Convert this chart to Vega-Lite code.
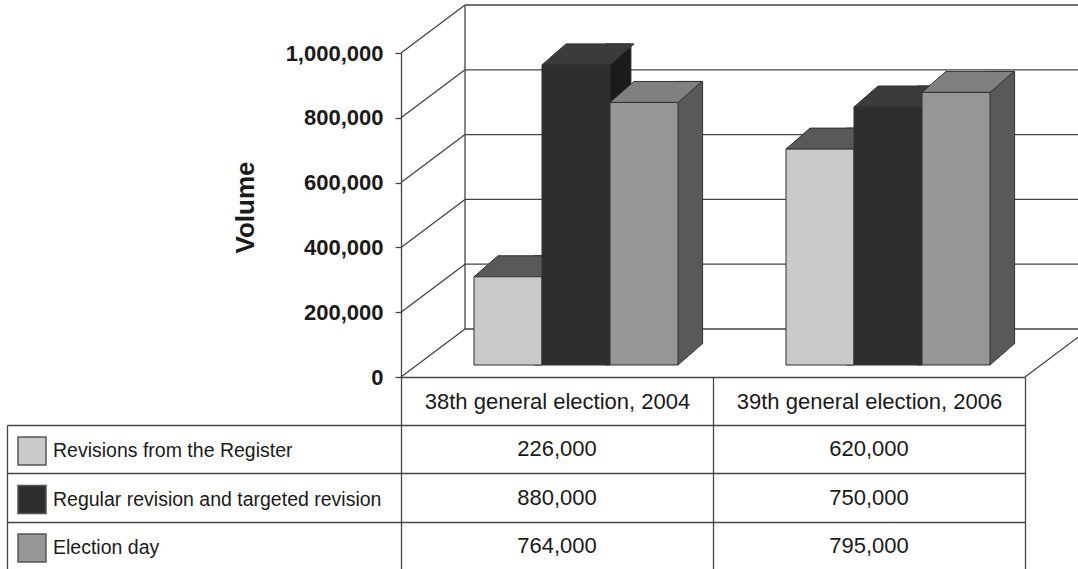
{
  "$schema": "https://vega.github.io/schema/vega-lite/v6.json",
  "width": 624,
  "height": 324,
  "padding": {"left": 401, "top": 53, "right": 53, "bottom": 192},
  "autosize": {"type": "none"},
  "config": {
    "font": "Liberation Sans",
    "view": {"stroke": null},
    "axis": {"labelColor": "#1a1a1a", "titleColor": "#1a1a1a"}
  },
  "datasets": {
    "volumes": [
      {"election": "38th general election, 2004", "series": "Revisions from the Register", "value": 226000},
      {"election": "38th general election, 2004", "series": "Regular revision and targeted revision", "value": 880000},
      {"election": "38th general election, 2004", "series": "Election day", "value": 764000},
      {"election": "39th general election, 2006", "series": "Revisions from the Register", "value": 620000},
      {"election": "39th general election, 2006", "series": "Regular revision and targeted revision", "value": 750000},
      {"election": "39th general election, 2006", "series": "Election day", "value": 795000}
    ],
    "levels": [
      {"level": 0}, {"level": 200000}, {"level": 400000},
      {"level": 600000}, {"level": 800000}, {"level": 1000000}
    ]
  },
  "layer": [
    {
      "layer": [
        {
          "data": {"name": "levels"},
          "mark": {"type": "rule", "color": "#444", "strokeWidth": 1.3, "xOffset": 64, "x2Offset": 64, "yOffset": -48},
          "encoding": {
            "x": {"datum": "38th general election, 2004", "bandPosition": 0},
            "x2": {"datum": "39th general election, 2006", "bandPosition": 1},
            "y": {"field": "level", "type": "quantitative"}
          }
        },
        {
          "data": {"values": [{}]},
          "mark": {"type": "rule", "color": "#444", "strokeWidth": 1.3, "xOffset": 64, "yOffset": -48, "y2Offset": -48},
          "encoding": {
            "x": {"datum": "38th general election, 2004", "bandPosition": 0},
            "y": {"datum": 0, "type": "quantitative"},
            "y2": {"datum": 1000000}
          }
        },
        {
          "data": {"name": "levels"},
          "mark": {"type": "rule", "color": "#444", "strokeWidth": 1.3, "x2Offset": 64, "y2Offset": -48},
          "encoding": {
            "x": {"datum": "38th general election, 2004", "bandPosition": 0},
            "x2": {"datum": "38th general election, 2004", "bandPosition": 0},
            "y": {"field": "level", "type": "quantitative"},
            "y2": {"field": "level"}
          }
        },
        {
          "data": {"values": [{}]},
          "mark": {"type": "rule", "color": "#444", "strokeWidth": 1.3, "x2Offset": 64, "y2Offset": -48},
          "encoding": {
            "x": {"datum": "39th general election, 2006", "bandPosition": 1},
            "x2": {"datum": "39th general election, 2006", "bandPosition": 1},
            "y": {"datum": 0, "type": "quantitative"},
            "y2": {"datum": 0}
          }
        },
        {
          "data": {"name": "volumes"},
          "mark": {"type": "bar", "stroke": "#333", "strokeWidth": 1, "yOffset": -48, "y2Offset": -12},
          "encoding": {
            "x": {"field": "election", "type": "nominal"},
            "xOffset": {"field": "series", "type": "nominal",
              "scale": {"type": "band", "domain": ["Revisions from the Register", "Regular revision and targeted revision", "Election day"], "paddingInner": 0.6471, "paddingOuter": 1.1176, "align": 0.9276}},
            "y": {"field": "value", "type": "quantitative"},
            "y2": {"datum": 0},
            "fill": {"field": "series", "type": "nominal", "legend": null,
              "scale": {"domain": ["Revisions from the Register", "Regular revision and targeted revision", "Election day"], "range": ["#595959", "#1b1b1b", "#595959"]}}
          }
        },
        {
          "data": {"name": "volumes"},
          "mark": {"type": "point", "shape": "M34,0 L58,-21 L60,-21 L60,2 L33,2 Z", "size": 4, "filled": true, "fill": "white", "strokeWidth": 0, "opacity": 1, "yOffset": -12},
          "encoding": {
            "x": {"field": "election", "type": "nominal"},
            "xOffset": {"field": "series", "type": "nominal",
              "scale": {"type": "band", "domain": ["Revisions from the Register", "Regular revision and targeted revision", "Election day"], "paddingInner": 0, "paddingOuter": 0.7941, "align": 0.6759}},
            "y": {"datum": 0, "type": "quantitative"}
          }
        },
        {
          "data": {"name": "volumes"},
          "mark": {"type": "point", "shape": "M34,0 L58,-21", "size": 4, "filled": false, "stroke": "#333", "strokeWidth": 1, "opacity": 1, "yOffset": -12},
          "encoding": {
            "x": {"field": "election", "type": "nominal"},
            "xOffset": {"field": "series", "type": "nominal",
              "scale": {"type": "band", "domain": ["Revisions from the Register", "Regular revision and targeted revision", "Election day"], "paddingInner": 0, "paddingOuter": 0.7941, "align": 0.6759}},
            "y": {"datum": 0, "type": "quantitative"}
          }
        },
        {
          "data": {"name": "volumes"},
          "mark": {"type": "point", "shape": "M-34,0 L34,0 L58,-21 L-10,-21 Z", "size": 4, "filled": true, "stroke": "#333", "strokeWidth": 1, "opacity": 1, "yOffset": -27},
          "encoding": {
            "x": {"field": "election", "type": "nominal"},
            "xOffset": {"field": "series", "type": "nominal",
              "scale": {"type": "band", "domain": ["Revisions from the Register", "Regular revision and targeted revision", "Election day"], "paddingInner": 0, "paddingOuter": 0.7941, "align": 0.6759}},
            "y": {"field": "value", "type": "quantitative"},
            "fill": {"field": "series", "type": "nominal", "legend": null,
              "scale": {"domain": ["Revisions from the Register", "Regular revision and targeted revision", "Election day"], "range": ["#595959", "#3b3b3b", "#808080"]}}
          }
        },
        {
          "data": {"name": "volumes"},
          "mark": {"type": "bar", "stroke": "#333", "strokeWidth": 1, "yOffset": -27, "y2Offset": -12},
          "encoding": {
            "x": {"field": "election", "type": "nominal",
              "scale": {"type": "band", "domain": ["38th general election, 2004", "39th general election, 2006"], "paddingInner": 0, "paddingOuter": 0}},
            "xOffset": {"field": "series", "type": "nominal",
              "scale": {"type": "band", "domain": ["Revisions from the Register", "Regular revision and targeted revision", "Election day"], "paddingInner": 0, "paddingOuter": 0.7941, "align": 0.6759}},
            "y": {"field": "value", "type": "quantitative",
              "scale": {"domain": [0, 1000000], "nice": false},
              "axis": {
                "orient": "left", "values": [0, 200000, 400000, 600000, 800000, 1000000], "format": ",d",
                "title": "Volume", "titleFontSize": 26, "titleFontWeight": "bold", "titleAngle": 270,
                "titleX": -156, "titleY": 154, "titleAlign": "center", "titleBaseline": "middle",
                "labelFontSize": 22, "labelFontWeight": "bold", "labelPadding": 12,
                "tickSize": 6, "tickColor": "#444", "tickWidth": 1.3,
                "domainColor": "#444", "domainWidth": 1.3, "grid": false
              }},
            "y2": {"datum": 0},
            "color": {"field": "series", "type": "nominal",
              "scale": {"domain": ["Revisions from the Register", "Regular revision and targeted revision", "Election day"], "range": ["#c9c9c9", "#2e2e2e", "#969696"]},
              "legend": {
                "orient": "none", "legendX": -384, "legendY": 383, "title": null, "padding": 0,
                "symbolType": "square", "symbolSize": 784, "symbolStrokeColor": "#555", "symbolStrokeWidth": 1.5, "symbolOpacity": 1,
                "labelFontSize": 19.5, "labelColor": "#1a1a1a", "labelOffset": 6, "labelLimit": 0, "rowPadding": 14.5
              }}
          }
        }
      ],
      "resolve": {"scale": {"xOffset": "independent", "fill": "independent"}}
    },
    {
      "data": {"name": "volumes"},
      "mark": {"type": "text", "fontSize": 22, "color": "#1a1a1a"},
      "encoding": {
        "x": {"field": "election", "type": "nominal",
          "axis": {
            "orient": "bottom", "title": null, "labelAngle": 0, "labelAlign": "center",
            "domainColor": "#444", "domainWidth": 1.3,
            "tickBand": "extent", "tickSize": 192, "tickColor": "#444", "tickWidth": 1.3,
            "labelFontSize": 22, "labelPadding": -168, "labelBaseline": "middle", "labelLimit": 0, "grid": false
          }},
        "y": {"field": "series", "type": "nominal",
          "scale": {"type": "band", "domain": ["Revisions from the Register", "Regular revision and targeted revision", "Election day"], "range": [372, 517], "paddingInner": 0, "paddingOuter": 0},
          "axis": {
            "orient": "left", "offset": 394, "tickSize": -394, "tickBand": "extent",
            "values": ["Revisions from the Register", "Regular revision and targeted revision", "Election day"],
            "grid": true, "gridColor": "#444", "gridWidth": 1.3, "gridOpacity": 1,
            "domain": true, "domainColor": "#444", "domainWidth": 1.3,
            "tickColor": "#444", "tickWidth": 1.3, "labels": false, "title": null
          }},
        "text": {"field": "value", "type": "quantitative", "format": ",d"}
      }
    }
  ],
  "resolve": {"scale": {"y": "independent"}}
}
